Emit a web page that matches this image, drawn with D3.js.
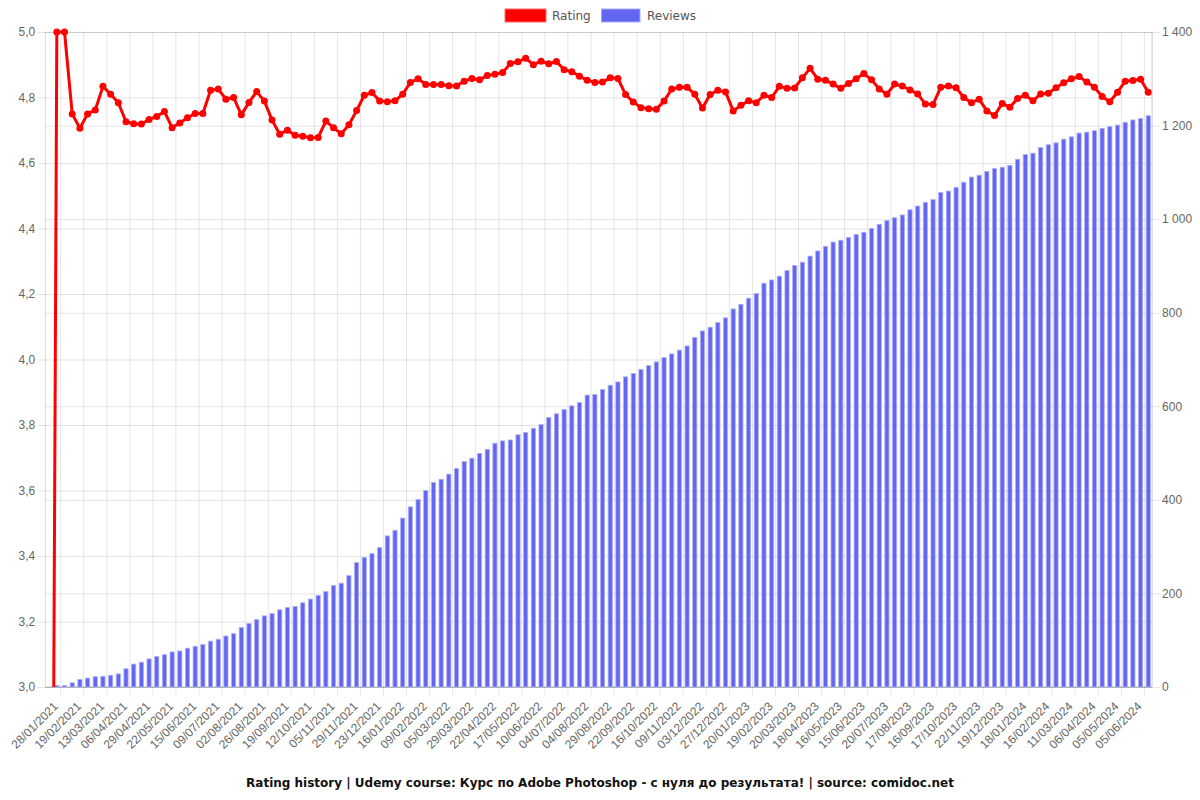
<!DOCTYPE html>
<html>
<head>
<meta charset="utf-8">
<script src="https://cdn.jsdelivr.net/npm/d3@7"></script>
<style>
  html, body { margin: 0; padding: 0; background: #fff; }
  svg { display: block; font-family: "DejaVu Sans", Verdana, sans-serif; }
</style>
</head>
<body>
<svg id="chart" width="1200" height="800"></svg>
<script>
// ---------- DATA ----------
const tickLabels = ["28/01/2021","19/02/2021","13/03/2021","06/04/2021","29/04/2021","22/05/2021","15/06/2021","09/07/2021","02/08/2021","26/08/2021","19/09/2021","12/10/2021","05/11/2021","29/11/2021","23/12/2021","16/01/2022","09/02/2022","05/03/2022","29/03/2022","22/04/2022","17/05/2022","10/06/2022","04/07/2022","04/08/2022","29/08/2022","22/09/2022","16/10/2022","09/11/2022","03/12/2022","27/12/2022","20/01/2023","19/02/2023","20/03/2023","18/04/2023","16/05/2023","15/06/2023","20/07/2023","17/08/2023","16/09/2023","17/10/2023","22/11/2023","19/12/2023","18/01/2024","16/02/2024","11/03/2024","06/04/2024","05/05/2024","05/06/2024"];

const rating = [0,5.0,5.0,4.75,4.706,4.75,4.762,4.834,4.81,4.784,
4.726,4.72,4.719,4.733,4.742,4.757,4.708,4.722,4.738,4.751,
4.751,4.822,4.826,4.795,4.8,4.747,4.785,4.818,4.789,4.731,
4.688,4.7,4.685,4.682,4.677,4.678,4.728,4.708,4.689,4.717,
4.76,4.807,4.815,4.789,4.787,4.79,4.81,4.846,4.857,4.84,
4.84,4.84,4.836,4.835,4.85,4.858,4.854,4.867,4.871,4.876,
4.904,4.909,4.92,4.9,4.911,4.903,4.91,4.885,4.879,4.865,
4.853,4.846,4.847,4.86,4.858,4.809,4.786,4.769,4.766,4.764,
4.789,4.826,4.831,4.831,4.81,4.768,4.809,4.822,4.817,4.759,
4.776,4.79,4.784,4.807,4.8,4.834,4.828,4.829,4.86,4.889,
4.856,4.853,4.841,4.828,4.843,4.857,4.873,4.854,4.826,4.81,
4.841,4.835,4.823,4.811,4.78,4.779,4.831,4.835,4.83,4.8,
4.784,4.795,4.759,4.745,4.782,4.77,4.797,4.807,4.79,4.811,
4.813,4.83,4.845,4.857,4.864,4.847,4.831,4.803,4.787,4.816,
4.85,4.852,4.856,4.816];

const reviews = [0,3,3,9,16,19,22,23,25,28,
39,49,53,60,65,69,75,77,83,87,
91,98,102,109,114,127,136,144,152,157,
165,170,172,180,188,196,204,217,222,238,
266,277,285,298,323,335,361,385,401,420,
437,444,455,467,482,489,499,508,521,526,
528,539,544,553,561,576,584,593,601,608,
624,625,636,645,652,663,670,679,687,695,
704,712,720,729,747,761,769,779,789,808,
818,831,841,863,870,878,890,901,908,921,
932,942,951,955,961,967,972,980,989,997,
1003,1009,1020,1028,1036,1042,1057,1060,1068,1079,
1090,1094,1102,1108,1111,1115,1128,1138,1141,1153,
1159,1163,1171,1176,1184,1186,1189,1194,1198,1201,
1207,1212,1215,1221];

const categories = d3.range(reviews.length);
const tickIndex = d3.range(1, reviews.length, 3).slice(0, tickLabels.length);
const ratingTicks = [3.0, 3.2, 3.4, 3.6, 3.8, 4.0, 4.2, 4.4, 4.6, 4.8, 5.0];
const reviewTicks = [0, 200, 400, 600, 800, 1000, 1200, 1400];
const seriesNames = ["Rating", "Reviews"];
const title = "Rating history | Udemy course: Курс по Adobe Photoshop - с нуля до результата! | source: comidoc.net";

// ---------- LAYOUT ----------
const L = 45.3, R = 1152.1, T = 32, B = 687;
const RED = "#ff0000", BLUE = "#6366f1";
const GRID = "rgba(0,0,0,0.1)";
const TXT = "#666";

const svg = d3.select("#chart");
svg.append("rect").attr("width", 1200).attr("height", 800).attr("fill", "#fff");

const x = d3.scaleBand().domain(categories).range([L, R]).padding(0);
const yL = d3.scaleLinear().domain([3, 5]).range([B, T]);
const yR = d3.scaleLinear().domain([0, 1400]).range([B, T]);
const loc = d3.formatLocale({decimal: ",", thousands: " ", grouping: [3], currency: ["", ""]});
const fmtL = loc.format(".1f");
const fmtR = loc.format(",d");

// vertical grid lines (right edge of labelled categories)
svg.append("g").selectAll("line").data(tickIndex).join("line")
  .attr("x1", d => x(d) + x.bandwidth()).attr("x2", d => x(d) + x.bandwidth())
  .attr("y1", T).attr("y2", B + 8)
  .attr("stroke", GRID).attr("stroke-width", 1);

// left axis (rating) with grid
const gL = svg.append("g").attr("transform", `translate(${L},0)`)
  .call(d3.axisLeft(yL).tickValues(ratingTicks).tickFormat(fmtL).tickSize(8).tickPadding(2));
gL.select(".domain").remove();
gL.selectAll(".tick line").attr("x2", R - L).attr("x1", -8).attr("stroke", GRID);
gL.selectAll(".tick text").attr("fill", TXT).style("font-size", "12px").attr("x", -10);

// right axis (reviews) with grid
const gR = svg.append("g").attr("transform", `translate(${R},0)`)
  .call(d3.axisRight(yR).tickValues(reviewTicks).tickFormat(fmtR).tickSize(8).tickPadding(2));
gR.select(".domain").remove();
gR.selectAll(".tick line").attr("x1", -(R - L)).attr("x2", 8).attr("stroke", GRID);
gR.selectAll(".tick text").attr("fill", TXT).style("font-size", "12px").attr("x", 10);

// axis borders
svg.append("line").attr("x1", L).attr("x2", L).attr("y1", T).attr("y2", B)
  .attr("stroke", "rgba(0,0,0,0.15)");
svg.append("line").attr("x1", R).attr("x2", R).attr("y1", T).attr("y2", B)
  .attr("stroke", "rgba(0,0,0,0.2)");
svg.append("line").attr("x1", L).attr("x2", R).attr("y1", B).attr("y2", B)
  .attr("stroke", "rgba(0,0,0,0.25)");

// x axis labels
const gX = svg.append("g").attr("transform", `translate(0,${B})`)
  .call(d3.axisBottom(x).tickValues(tickIndex).tickFormat((d, i) => tickLabels[i]).tickSize(0));
gX.select(".domain").remove();
gX.selectAll(".tick text")
  .attr("fill", TXT).style("font-size", "12px")
  .attr("text-anchor", "end")
  .attr("dy", "0.35em")
  .attr("transform", "translate(-1,17) rotate(-45)")
  .attr("y", 0).attr("x", 0);

// bars
const bw = 4.2;
svg.append("g").selectAll("rect").data(categories).join("rect")
  .attr("x", d => x(d) + x.bandwidth() / 2 - bw / 2)
  .attr("width", bw)
  .attr("y", d => yR(reviews[d]))
  .attr("height", d => B - yR(reviews[d]))
  .attr("fill", BLUE)
  .attr("stroke", "#aeb0f8").attr("stroke-width", 0.8);

// line (clipped)
svg.append("clipPath").attr("id", "clip").append("rect")
  .attr("x", L - 6).attr("y", 0).attr("width", R - L + 12).attr("height", B);
const gLine = svg.append("g").attr("clip-path", "url(#clip)");
const line = d3.line().x(d => x(d) + x.bandwidth() / 2).y(d => yL(rating[d]));
gLine.append("path").datum(categories).attr("d", line)
  .attr("fill", "none").attr("stroke", RED).attr("stroke-width", 3)
  .attr("stroke-linejoin", "round");
gLine.selectAll("circle").data(categories).join("circle")
  .attr("cx", d => x(d) + x.bandwidth() / 2)
  .attr("cy", d => yL(rating[d]))
  .attr("r", 3.5).attr("fill", RED);

// legend
const leg = svg.append("g");
leg.append("rect").attr("x", 505).attr("y", 9).attr("width", 41).attr("height", 13)
  .attr("fill", RED).attr("stroke", "#ff6b6b").attr("stroke-width", 1);
leg.append("text").attr("x", 552).attr("y", 16).attr("dy", "0.35em")
  .attr("fill", "#555").style("font-size", "12px").text(seriesNames[0]);
leg.append("rect").attr("x", 601.5).attr("y", 9).attr("width", 38.5).attr("height", 13)
  .attr("fill", BLUE).attr("stroke", "#a9abf7").attr("stroke-width", 1);
leg.append("text").attr("x", 647).attr("y", 16).attr("dy", "0.35em")
  .attr("fill", "#555").style("font-size", "12px").text(seriesNames[1]);

// title
svg.append("text").attr("x", 600).attr("y", 783).attr("dy", "0.35em")
  .attr("text-anchor", "middle").attr("fill", "#111")
  .style("font-size", "12px").style("font-weight", "bold").text(title);
</script>
</body>
</html>
